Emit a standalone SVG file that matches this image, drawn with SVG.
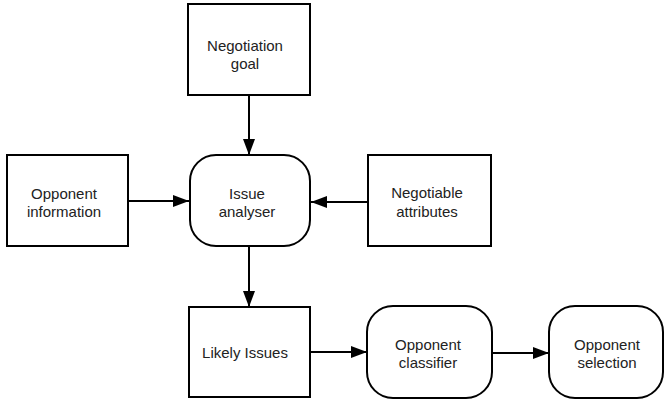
<svg xmlns="http://www.w3.org/2000/svg" width="666" height="402" viewBox="0 0 666 402">
  <defs>
    <marker id="arrow" viewBox="0 0 16 12" refX="16" refY="6" markerWidth="16" markerHeight="12" markerUnits="userSpaceOnUse" orient="auto">
      <path d="M0,0 L16,6 L0,12 Z" fill="#000"/>
    </marker>
  </defs>
  <style>
    .box { fill: #fff; stroke: #000; stroke-width: 2; }
    .proc { fill: #fff; stroke: #000; stroke-width: 2; }
    .lbl { font-family: "Liberation Sans", Arial, sans-serif; font-size: 15px; fill: #222; text-anchor: middle; }
    .edge { stroke: #000; stroke-width: 2; fill: none; marker-end: url(#arrow); }
  </style>
  <rect width="666" height="402" fill="#fff"/>

  <g id="connectors">
    <line class="edge" x1="249" y1="95" x2="249" y2="155"/>
    <line class="edge" x1="128" y1="201" x2="189" y2="201"/>
    <line class="edge" x1="368" y1="202" x2="311" y2="202"/>
    <line class="edge" x1="249" y1="246" x2="249" y2="307"/>
    <line class="edge" x1="310" y1="352" x2="367" y2="352"/>
    <line class="edge" x1="492" y1="353" x2="549" y2="353"/>
  </g>

  <g id="negotiation-goal">
    <rect class="box" x="188" y="4" width="122" height="91"/>
    <text class="lbl" x="245" y="51">Negotiation</text>
    <text class="lbl" x="245" y="69">goal</text>
  </g>

  <g id="opponent-information">
    <rect class="box" x="7" y="155" width="121" height="91"/>
    <text class="lbl" x="64" y="199">Opponent</text>
    <text class="lbl" x="64" y="217">information</text>
  </g>

  <g id="issue-analyser">
    <rect class="proc" x="190" y="155" width="120" height="91" rx="26" ry="26"/>
    <text class="lbl" x="247" y="199">Issue</text>
    <text class="lbl" x="247" y="217">analyser</text>
  </g>

  <g id="negotiable-attributes">
    <rect class="box" x="368" y="155" width="123" height="91"/>
    <text class="lbl" x="427" y="198">Negotiable</text>
    <text class="lbl" x="427" y="217">attributes</text>
  </g>

  <g id="likely-issues">
    <rect class="box" x="189" y="307" width="121" height="90"/>
    <text class="lbl" x="245" y="358">Likely Issues</text>
  </g>

  <g id="opponent-classifier">
    <rect class="proc" x="367" y="306" width="125" height="92" rx="26" ry="26"/>
    <text class="lbl" x="428" y="350">Opponent</text>
    <text class="lbl" x="428" y="368">classifier</text>
  </g>

  <g id="opponent-selection">
    <rect class="proc" x="549" y="306" width="114" height="92" rx="26" ry="26"/>
    <text class="lbl" x="607" y="350">Opponent</text>
    <text class="lbl" x="607" y="368">selection</text>
  </g>
</svg>
